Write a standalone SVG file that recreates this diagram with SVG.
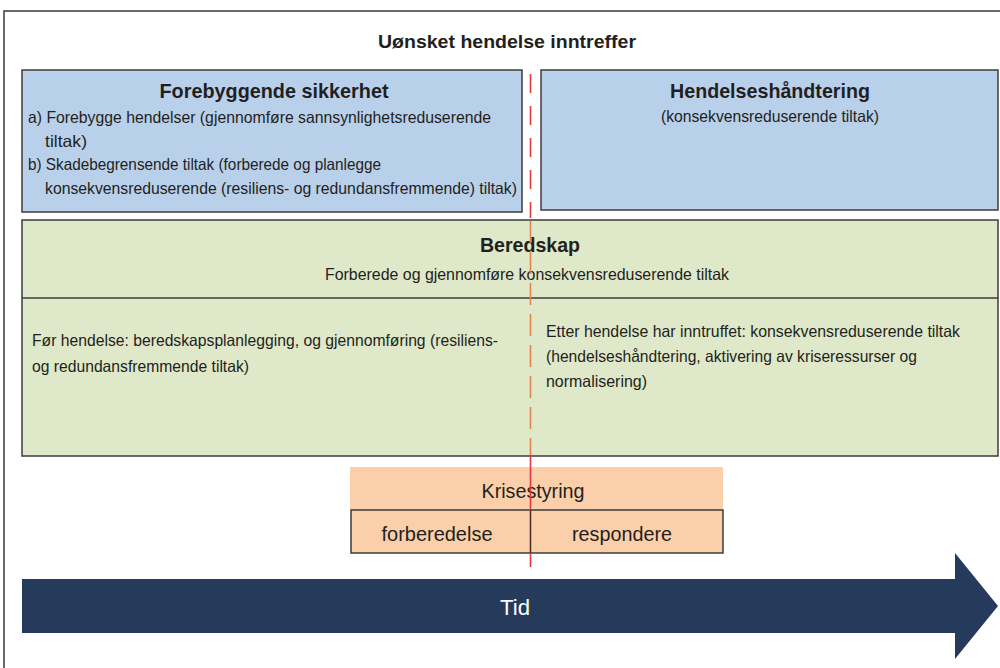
<svg xmlns="http://www.w3.org/2000/svg" width="1000" height="668" viewBox="0 0 1000 668">
  <style>
    text { font-family: "Liberation Sans", Arial, sans-serif; fill: #231f20; }
    .h { font-weight: bold; }
    .box { stroke: #3d3d3d; stroke-width: 1.5; }
    .blue { fill: #b9d0eb; }
    .green { fill: #dfe8c9; }
    .orange { fill: #fbcfa9; }
    .mid { text-anchor: middle; }
  </style>

  <rect x="0" y="0" width="1000" height="668" fill="#ffffff"/>
  <!-- outer frame -->
  <rect x="4" y="11" width="1010" height="700" fill="none" stroke="#3a3a3a" stroke-width="1.5"/>

  <text class="h mid" x="507" y="48" font-size="19" textLength="258" lengthAdjust="spacingAndGlyphs">Uønsket hendelse inntreffer</text>

  <g id="forebyggende">
    <rect class="box blue" x="22" y="70" width="500" height="142"/>
    <text class="h mid" x="274" y="98" font-size="21" textLength="229" lengthAdjust="spacingAndGlyphs">Forebyggende sikkerhet</text>
    <text x="28" y="123" font-size="16.5" textLength="463" lengthAdjust="spacingAndGlyphs">a) Forebygge hendelser (gjennomføre sannsynlighetsreduserende</text>
    <text x="45" y="147" font-size="16.5" textLength="42" lengthAdjust="spacingAndGlyphs">tiltak)</text>
    <text x="28" y="170" font-size="16.5" textLength="353" lengthAdjust="spacingAndGlyphs">b) Skadebegrensende tiltak (forberede og planlegge</text>
    <text x="45" y="194" font-size="16.5" textLength="472" lengthAdjust="spacingAndGlyphs">konsekvensreduserende (resiliens- og redundansfremmende) tiltak)</text>
  </g>

  <g id="hendelseshandtering">
    <rect class="box blue" x="541" y="70" width="457" height="140"/>
    <text class="h mid" x="770" y="98" font-size="21" textLength="200" lengthAdjust="spacingAndGlyphs">Hendelseshåndtering</text>
    <text class="mid" x="770" y="122" font-size="16.5" textLength="218" lengthAdjust="spacingAndGlyphs">(konsekvensreduserende tiltak)</text>
  </g>

  <g id="beredskap">
    <rect class="box green" x="22" y="220" width="976" height="236"/>
    <line x1="22" y1="298" x2="998" y2="298" stroke="#3d3d3d" stroke-width="1.5"/>
    <text class="h mid" x="530" y="252" font-size="21" textLength="100" lengthAdjust="spacingAndGlyphs">Beredskap</text>
    <text class="mid" x="527" y="280" font-size="16.5" textLength="404" lengthAdjust="spacingAndGlyphs">Forberede og gjennomføre konsekvensreduserende tiltak</text>
    <text x="32" y="346" font-size="16.5" textLength="466" lengthAdjust="spacingAndGlyphs">Før hendelse: beredskapsplanlegging, og gjennomføring (resiliens-</text>
    <text x="32" y="372" font-size="16.5" textLength="217" lengthAdjust="spacingAndGlyphs">og redundansfremmende tiltak)</text>
    <text x="546" y="337" font-size="16.5" textLength="414" lengthAdjust="spacingAndGlyphs">Etter hendelse har inntruffet: konsekvensreduserende tiltak</text>
    <text x="546" y="362" font-size="16.5" textLength="371" lengthAdjust="spacingAndGlyphs">(hendelseshåndtering, aktivering av kriseressurser og</text>
    <text x="546" y="387" font-size="16.5" textLength="101" lengthAdjust="spacingAndGlyphs">normalisering)</text>
  </g>

  <g id="krisestyring">
    <rect class="orange" x="350" y="467" width="373" height="43"/>
    <rect class="box orange" x="351" y="510" width="372" height="43"/>
    <text class="mid" x="533" y="498" font-size="20" textLength="103" lengthAdjust="spacingAndGlyphs">Krisestyring</text>
    <text class="mid" x="437" y="541" font-size="20" textLength="111" lengthAdjust="spacingAndGlyphs">forberedelse</text>
    <text class="mid" x="622" y="541" font-size="20" textLength="100" lengthAdjust="spacingAndGlyphs">respondere</text>
  </g>

  <!-- event marker line -->
  <g id="connectors" fill="none">
    <line x1="530.5" y1="74" x2="530.5" y2="218" stroke="#e0393f" stroke-width="1.6" stroke-dasharray="19 13"/>
    <line x1="530.5" y1="221" x2="530.5" y2="455" stroke="#df8650" stroke-width="1.6" stroke-dasharray="22 9"/>
    <line x1="530.5" y1="456" x2="530.5" y2="510" stroke="#e0393f" stroke-width="1.6"/>
    <line x1="530.5" y1="510" x2="530.5" y2="553" stroke="#4a2a22" stroke-width="1.5"/>
    <line x1="530.5" y1="553" x2="530.5" y2="567" stroke="#e0393f" stroke-width="1.6"/>
  </g>

  <g id="tid">
    <polygon points="22,579 955,579 955,553 998,606 955,659 955,633 22,633" fill="#263b5b"/>
    <text class="mid" x="515" y="615" font-size="22" style="fill:#ffffff" textLength="30" lengthAdjust="spacingAndGlyphs">Tid</text>
  </g>
</svg>
